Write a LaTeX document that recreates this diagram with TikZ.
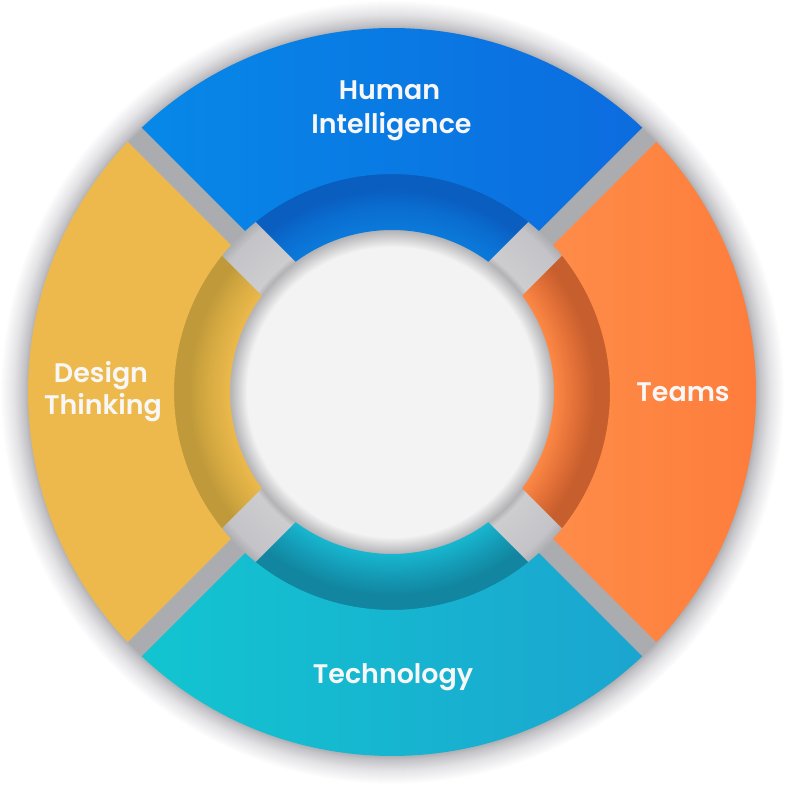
\documentclass[tikz,border=0pt]{standalone}
\usepackage{fontspec}
\setmainfont{Poppins}[BoldFont={Poppins SemiBold}]
\definecolor{cCenter}{HTML}{F3F3F3}
\definecolor{ringA}{HTML}{E0E0E1}
\definecolor{ringB}{HTML}{B3B3B6}
\definecolor{gapIn}{HTML}{CDCDD0}
\definecolor{gapIn2}{HTML}{C4C4C8}
\definecolor{gapOut}{HTML}{ABACB0}
\definecolor{haloA}{HTML}{C4C4C8}
\definecolor{haloB}{HTML}{E3E3E6}
\definecolor{txt}{HTML}{F7F7F7}
% outer bands
\definecolor{blA}{HTML}{0788E8}
\definecolor{blB}{HTML}{0C6CDF}
\definecolor{orA}{HTML}{FE8C48}
\definecolor{orB}{HTML}{FE7A3A}
\definecolor{cyA}{HTML}{12C5D0}
\definecolor{cyB}{HTML}{1BA5D0}
\definecolor{yeA}{HTML}{EEB94C}
% inner bands
\definecolor{ibl1}{HTML}{0B7ADA}
\definecolor{ibl2}{HTML}{0A6DD0}
\definecolor{ibl3}{HTML}{0A5EC0}
\definecolor{ior1}{HTML}{FD8845}
\definecolor{ior2}{HTML}{E06E36}
\definecolor{ior3}{HTML}{C65E2D}
\definecolor{icy1}{HTML}{18B6CF}
\definecolor{icy2}{HTML}{1499B4}
\definecolor{icy3}{HTML}{1286A0}
\definecolor{iye1}{HTML}{ECB94B}
\definecolor{iye2}{HTML}{D6AA42}
\definecolor{iye3}{HTML}{C09A3A}

\pgfdeclareradialshading{bgshade}{\pgfpoint{0bp}{0bp}}{%
 color(0bp)=(cCenter); color(145bp)=(cCenter); color(150bp)=(ringA);
 color(162bp)=(ringB); color(168bp)=(gapIn); color(208bp)=(gapIn2);
 color(219bp)=(gapOut); color(363bp)=(gapOut); color(368bp)=(haloA);
 color(378bp)=(haloB); color(392bp)=(white)}
\pgfdeclareradialshading{inblue}{\pgfpoint{0bp}{0bp}}{%
 color(0bp)=(ibl1); color(162bp)=(ibl1); color(185bp)=(ibl2); color(203bp)=(ibl3); color(220bp)=(ibl3)}
\pgfdeclareradialshading{inorange}{\pgfpoint{0bp}{0bp}}{%
 color(0bp)=(ior1); color(162bp)=(ior1); color(185bp)=(ior2); color(203bp)=(ior3); color(220bp)=(ior3)}
\pgfdeclareradialshading{incyan}{\pgfpoint{0bp}{0bp}}{%
 color(0bp)=(icy1); color(162bp)=(icy1); color(185bp)=(icy2); color(203bp)=(icy3); color(220bp)=(icy3)}
\pgfdeclareradialshading{inyellow}{\pgfpoint{0bp}{0bp}}{%
 color(0bp)=(iye1); color(162bp)=(iye1); color(185bp)=(iye2); color(203bp)=(iye3); color(220bp)=(iye3)}

% #1 path command, #2 mid angle, #3 inner radius, #4 outer radius, #5 end offset
\newcommand\ringsector[5]{%
 \pgfmathsetmacro\sAo{asin(#5/#4)}%
 \pgfmathsetmacro\sAi{asin(#5/#3)}%
 \pgfmathsetmacro\sA{#2-45+\sAo}\pgfmathsetmacro\sB{#2+45-\sAo}%
 \pgfmathsetmacro\sC{#2+45-\sAi}\pgfmathsetmacro\sD{#2-45+\sAi}%
 #1 (\sA:#4) arc[start angle=\sA, end angle=\sB, radius=#4] -- (\sC:#3)
   arc[start angle=\sC, end angle=\sD, radius=#3] -- cycle;}

\newcommand\innerband[2]{% #1 mid angle, #2 shading
 \begin{scope}
  \ringsector{\clip}{#1}{162}{219}{24}
  \pgftext{\pgfuseshading{#2}}
 \end{scope}}

\tikzset{lbl/.style={text=txt, inner sep=0pt, anchor=base,
  font=\fontsize{27}{32}\selectfont\bfseries}}

\begin{document}
\begin{tikzpicture}[x=1bp,y=1bp]
\useasboundingbox (0,0) rectangle (786,786);
\fill[white] (0,0) rectangle (786,786);
\coordinate (C) at (392,394);
\begin{scope}[shift={(C)}]
 \begin{scope}
  \clip (0,0) circle[radius=392];
  \pgftext{\pgfuseshading{bgshade}}
 \end{scope}
 \innerband{90}{inblue}
 \innerband{0}{inorange}
 \innerband{270}{incyan}
 \innerband{180}{inyellow}
 \ringsector{\shade[left color=blA, right color=blB]}{90}{218}{364}{10}
 \ringsector{\shade[left color=orA, right color=orB]}{0}{218}{364}{10}
 \ringsector{\shade[left color=cyA, right color=cyB]}{270}{218}{364}{10}
 \ringsector{\fill[yeA]}{180}{218}{364}{10}
\end{scope}
\node[lbl] (hum1) at (389.5,686) {Human};
\node[lbl] (hum2) at (391.5,652) {Intelligence};
\node[lbl] (teams) at (683,384) {Teams};
\node[lbl] (des1) at (101,403) {Design};
\node[lbl] (des2) at (103,371) {Thinking};
\node[lbl] (tech) at (393,102) {Technology};
\end{tikzpicture}
\end{document}
